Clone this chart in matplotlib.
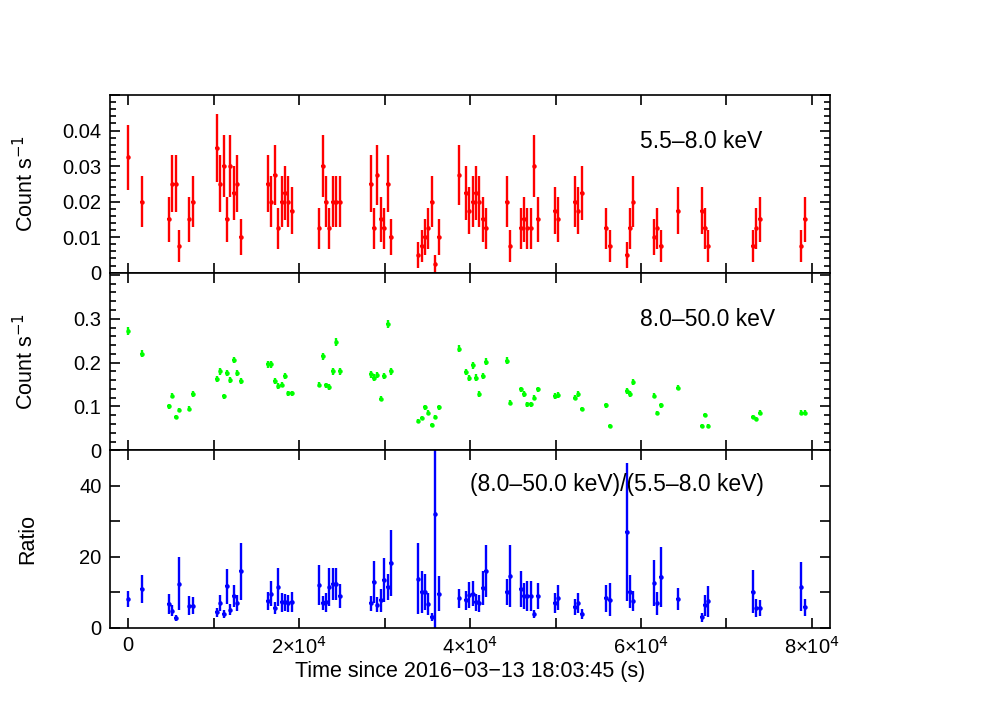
import numpy as np
import matplotlib
matplotlib.use("Agg")
import matplotlib.pyplot as plt
from matplotlib.ticker import MultipleLocator, FuncFormatter

plt.rcParams['font.family'] = ['Liberation Sans', 'DejaVu Sans']

# bin centres, seconds since 2016-03-13 18:03:45
time = [0, 1570, 4760, 5150, 5580, 5970, 7140, 7570, 10350, 10770, 11170, 11550, 11940,
        12340, 12760, 13160, 16350, 16740, 17140, 17560, 17960, 18340, 18730, 19160,
        22360, 22760, 23140, 23530, 23960, 24350, 24750, 28370, 28760, 29150, 29540,
        29930, 30360, 30750, 33950, 34350, 34740, 35120, 35560, 35940, 36330, 38750,
        39530, 39920, 40310, 40700, 41090, 41480, 41870, 44330, 44720, 45930, 46320,
        46710, 47100, 47520, 47920, 49950, 50330, 52290, 52680, 53110, 55920, 56350,
        58340, 58730, 59120, 61540, 61920, 62320, 64340, 67120, 67500, 67890, 73120,
        73510, 73910, 78740, 79130]
half_bin = 196

soft = [0.0325, 0.02, 0.015, 0.025, 0.025, 0.0075, 0.015, 0.02, 0.035, 0.025, 0.03, 0.015,
        0.03, 0.0225, 0.025, 0.01, 0.025, 0.02, 0.0275, 0.0125, 0.02, 0.0225, 0.02, 0.0175,
        0.0125, 0.03, 0.02, 0.0125, 0.02, 0.02, 0.02, 0.025, 0.0125, 0.0275, 0.015, 0.0125,
        0.025, 0.01, 0.005, 0.0075, 0.01, 0.0125, 0.02, 0.0025, 0.01, 0.0275,
        0.0225, 0.0175, 0.02, 0.0225, 0.02, 0.015, 0.0125, 0.02, 0.0075, 0.0125, 0.015,
        0.0125, 0.0125, 0.03, 0.015, 0.0175, 0.015, 0.02, 0.0175, 0.0225, 0.0125, 0.0075,
        0.005, 0.0125, 0.02, 0.01, 0.0125, 0.0075, 0.0175, 0.0175, 0.0125, 0.0075, 0.0075,
        0.0125, 0.015, 0.0075, 0.015]
hard = [0.273, 0.22, 0.10, 0.125, 0.075, 0.092, 0.095, 0.128, 0.162, 0.18, 0.123, 0.177,
        0.16, 0.206, 0.177, 0.158, 0.196, 0.196, 0.158, 0.147, 0.15, 0.17, 0.13, 0.13,
        0.15, 0.214, 0.148, 0.145, 0.18, 0.247, 0.18, 0.173, 0.166, 0.171, 0.118, 0.17,
        0.287, 0.18, 0.067, 0.073, 0.098, 0.086, 0.058, 0.075, 0.098, 0.232,
        0.179, 0.164, 0.194, 0.166, 0.128, 0.17, 0.202, 0.204, 0.108, 0.139, 0.128, 0.105,
        0.105, 0.12, 0.139, 0.124, 0.126, 0.12, 0.128, 0.094, 0.103, 0.056, 0.135, 0.128,
        0.156, 0.125, 0.085, 0.103, 0.143, 0.056, 0.08, 0.055, 0.075, 0.071, 0.086,
        0.086, 0.086]
ratio = [8.1, 10.9, 6.8, 4.9, 2.8, 12.5, 6.3, 6.3, 4.4, 7.0, 4.0, 11.8, 5.1, 9.1, 7.0, 15.9,
         7.7, 9.7, 5.6, 11.5, 7.2, 7.2, 6.9, 7.2, 12.1, 7.0, 7.2, 11.5, 12.3, 12.3, 9.0,
         6.9, 13.0, 6.6, 7.8, 13.5, 11.5, 18.3, 13.9, 10.1, 10.1, 6.8, 3.0, 32.1, 9.7, 8.3,
         7.8, 9.4, 9.7, 7.2, 6.9, 11.3, 16.1, 10.1, 14.7, 11.0, 9.0, 9.0, 9.0, 4.0, 9.0,
         7.0, 8.5, 5.9, 7.0, 3.9, 8.3, 8.0, 27.0, 10.2, 7.7, 12.6, 7.0, 14.4, 8.2, 3.0, 6.4,
         7.5, 10.2, 5.6, 5.6, 11.6, 5.8]

# counting errors (effective exposure per bin, s)
exp_soft = 385.0
exp_hard = 3400.0
t = np.array(time)
s = np.array(soft); h = np.array(hard); r = np.array(ratio)
s_err = np.sqrt(s / exp_soft)
h_err = np.sqrt(h / exp_hard)
r_err = r * np.sqrt((s_err / s) ** 2 + (h_err / h) ** 2)

fig, axes = plt.subplots(3, 1, figsize=(9.99, 7.06), dpi=100, sharex=True)
fig.subplots_adjust(left=0.110, right=0.831, top=0.8654, bottom=0.1105, hspace=0)

series = [(s, s_err, 'red'), (h, h_err, '#00ff00'), (r, r_err, 'blue')]
for ax, (y, e, c) in zip(axes, series):
    ax.errorbar(t, y, yerr=e, xerr=half_bin, fmt='o', ms=2.2, color=c,
                elinewidth=1.7, capsize=0)
    ax.tick_params(direction='in', which='both', top=True, right=True,
                   labelsize=14.5, width=1.2, pad=6)
    ax.tick_params(which='major', length=7)
    ax.tick_params(which='minor', length=4)
    for sp in ax.spines.values():
        sp.set_linewidth(1.2)

ax1, ax2, ax3 = axes
ax1.set_ylim(0, 0.05)
ax1.yaxis.set_major_locator(MultipleLocator(0.01))
ax1.yaxis.set_minor_locator(MultipleLocator(0.002))
ax1.yaxis.set_major_formatter(FuncFormatter(lambda v, p: '0' if v == 0 else ('' if v > 0.045 else f'{v:.2f}')))
ax1.set_ylabel('Count s$^{-1}$', fontsize=15.5)
ax1.text(0.736, 0.70, '5.5\u20138.0 keV', transform=ax1.transAxes, fontsize=16.5)

ax2.set_ylim(0, 0.405)
ax2.yaxis.set_major_locator(MultipleLocator(0.1))
ax2.yaxis.set_minor_locator(MultipleLocator(0.02))
ax2.yaxis.set_major_formatter(FuncFormatter(lambda v, p: '0' if v == 0 else ('' if v > 0.35 else f'{v:.1f}')))
ax2.set_ylabel('Count s$^{-1}$', fontsize=15.5)
ax2.text(0.736, 0.70, '8.0\u201350.0 keV', transform=ax2.transAxes, fontsize=16.5)

ax3.set_ylim(0, 50)
ax3.yaxis.set_major_locator(MultipleLocator(10))
ax3.yaxis.set_major_formatter(FuncFormatter(lambda v, p: f'{v:.0f}' if v % 20 == 0 and v < 50 else ''))
ax3.set_ylabel('Ratio', fontsize=15.5)
ax3.text(0.50, 0.77, '(8.0\u201350.0 keV)/(5.5\u20138.0 keV)', transform=ax3.transAxes, fontsize=16.5)

ax3.set_xlim(-2140, 82130)
ax3.xaxis.set_major_locator(MultipleLocator(10000))

def xfmt(v, p):
    if v == 0:
        return '0'
    k = int(round(v / 1e4))
    return f'{k}\u00d710$^4$' if k % 2 == 0 else ''
ax3.xaxis.set_major_formatter(FuncFormatter(xfmt))
ax3.set_xlabel('Time since 2016\u221203\u221213 18:03:45 (s)', fontsize=15.5, labelpad=2)
for ax in axes[:2]:
    ax.tick_params(labelbottom=False)
for ax in axes:
    ax.yaxis.set_label_coords(-0.1, 0.5)

fig.savefig('out.png', dpi=100)
